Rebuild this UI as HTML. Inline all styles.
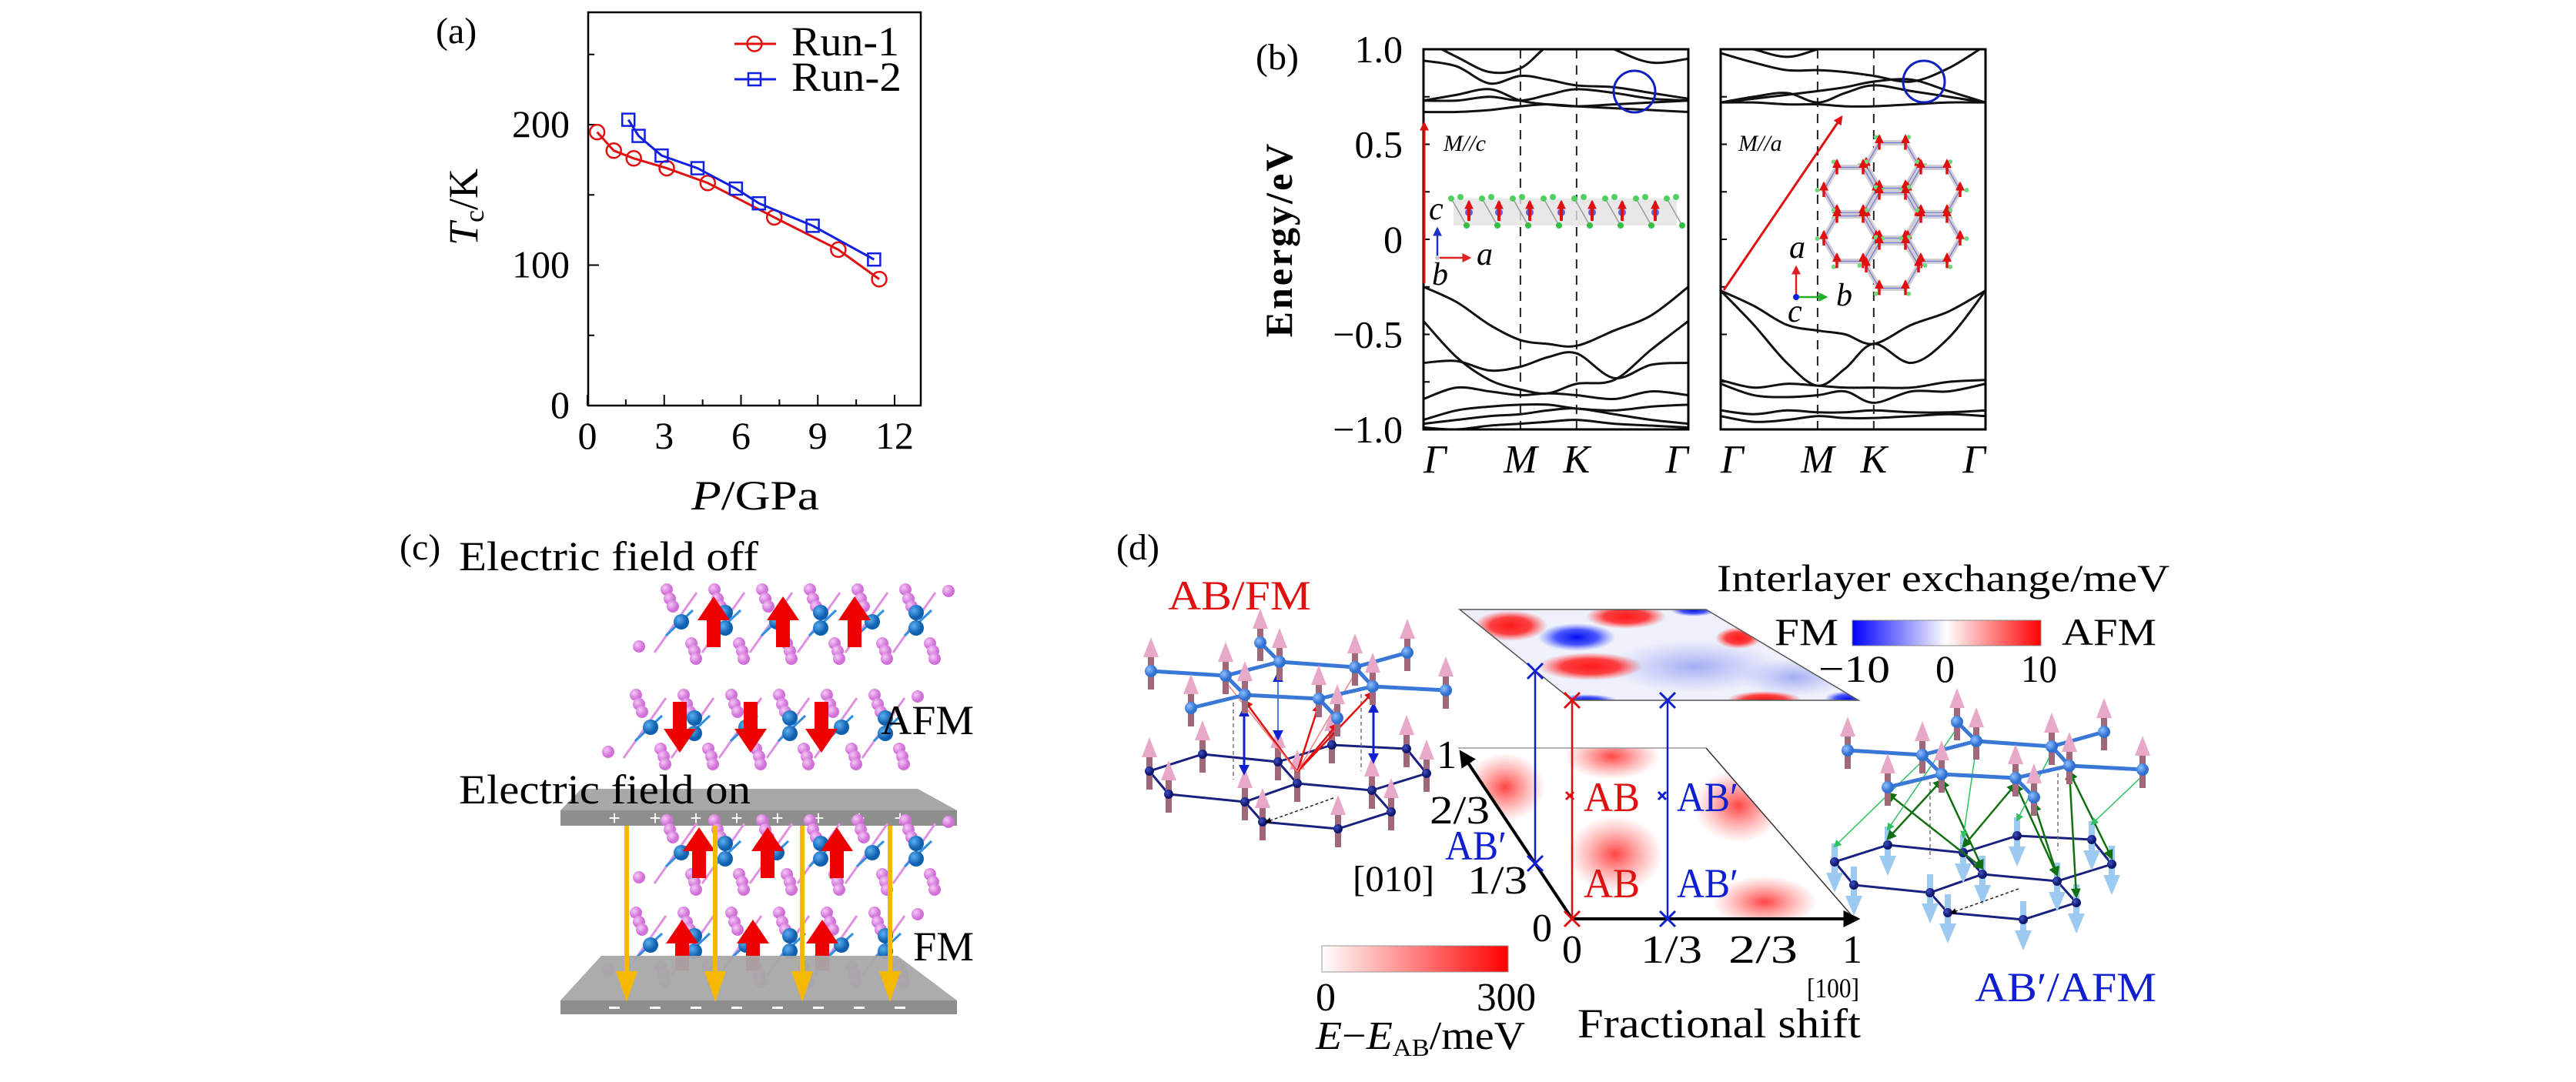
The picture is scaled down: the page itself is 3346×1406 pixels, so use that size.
<!DOCTYPE html>
<html><head><meta charset="utf-8"><title>Figure</title>
<style>
html,body{margin:0;padding:0;background:#fff;}
svg{display:block;font-family:"Liberation Serif",serif;}
</style></head>
<body>
<svg id="fig" xmlns="http://www.w3.org/2000/svg" width="3346" height="1406" viewBox="0 0 3346 1406">
<defs>
  <linearGradient id="gExch" x1="0" x2="1" y1="0" y2="0">
    <stop offset="0" stop-color="#0000ff"/><stop offset="0.5" stop-color="#ffffff"/><stop offset="1" stop-color="#ff0000"/>
  </linearGradient>
  <linearGradient id="gEn" x1="0" x2="1" y1="0" y2="0">
    <stop offset="0" stop-color="#ffffff"/><stop offset="1" stop-color="#ff0000"/>
  </linearGradient>
  <radialGradient id="rRed"><stop offset="0" stop-color="#ff1a1a" stop-opacity="1"/><stop offset="0.55" stop-color="#ff2020" stop-opacity="0.85"/><stop offset="1" stop-color="#ff4040" stop-opacity="0"/></radialGradient>
  <radialGradient id="rRedSoft"><stop offset="0" stop-color="#ff3030" stop-opacity="0.9"/><stop offset="1" stop-color="#ff6060" stop-opacity="0"/></radialGradient>
  <radialGradient id="rBlue"><stop offset="0" stop-color="#0010ee" stop-opacity="1"/><stop offset="0.55" stop-color="#2030ff" stop-opacity="0.8"/><stop offset="1" stop-color="#5060ff" stop-opacity="0"/></radialGradient>
  <radialGradient id="rBlueSoft"><stop offset="0" stop-color="#8a96f0" stop-opacity="0.75"/><stop offset="1" stop-color="#a0a8f4" stop-opacity="0"/></radialGradient>
  <radialGradient id="atomPink" cx="0.35" cy="0.35"><stop offset="0" stop-color="#f6c8f6"/><stop offset="1" stop-color="#d070d8"/></radialGradient>
  <radialGradient id="atomBlue" cx="0.35" cy="0.35"><stop offset="0" stop-color="#5ab0f0"/><stop offset="1" stop-color="#1060b0"/></radialGradient>
  <radialGradient id="nodeLight" cx="0.35" cy="0.35"><stop offset="0" stop-color="#8ec0ff"/><stop offset="1" stop-color="#3070d0"/></radialGradient>
  <radialGradient id="nodeDark" cx="0.35" cy="0.35"><stop offset="0" stop-color="#4050c0"/><stop offset="1" stop-color="#101870"/></radialGradient>
  <clipPath id="clipTop"><polygon points="1896,792 2216,792 2414,910 2042,910"/></clipPath>
  <clipPath id="clipBot"><polygon points="1894,972 2216,972 2409,1194 2042,1194"/></clipPath>
  <clipPath id="clipBL"><rect x="1849" y="64" width="344" height="494"/></clipPath>
  <clipPath id="clipBR"><rect x="2235" y="64" width="344" height="494"/></clipPath>
  <marker id="mBlk" markerWidth="8" markerHeight="8" refX="6" refY="4" orient="auto" markerUnits="userSpaceOnUse"><path d="M0,0 L8,4 L0,8 z" fill="#000"/></marker>
  <marker id="mBlkBig" viewBox="0 0 10 10" markerWidth="22" markerHeight="22" refX="8" refY="5" orient="auto" markerUnits="userSpaceOnUse"><path d="M0,0 L10,5 L0,10 z" fill="#000"/></marker>
  <marker id="mRed" viewBox="0 0 10 10" markerWidth="12" markerHeight="12" refX="8" refY="5" orient="auto-start-reverse" markerUnits="userSpaceOnUse"><path d="M0,0 L10,5 L0,10 z" fill="#e01010"/></marker>
  <marker id="mBlue" viewBox="0 0 10 10" markerWidth="14" markerHeight="14" refX="8" refY="5" orient="auto-start-reverse" markerUnits="userSpaceOnUse"><path d="M0,0 L10,5 L0,10 z" fill="#1020d0"/></marker>
  <marker id="mGreen" viewBox="0 0 10 10" markerWidth="13" markerHeight="13" refX="8" refY="5" orient="auto-start-reverse" markerUnits="userSpaceOnUse"><path d="M0,0 L10,5 L0,10 z" fill="#107010"/></marker>
  <marker id="mGreenL" viewBox="0 0 10 10" markerWidth="10" markerHeight="10" refX="8" refY="5" orient="auto" markerUnits="userSpaceOnUse"><path d="M0,0 L10,5 L0,10 z" fill="#30c060"/></marker>
  <marker id="mAx" viewBox="0 0 10 10" markerWidth="12" markerHeight="12" refX="8" refY="5" orient="auto" markerUnits="userSpaceOnUse"><path d="M0,0 L10,5 L0,10 z" fill="context-stroke"/></marker>
</defs>

<!-- ================= PANEL A ================= -->
<g id="panelA">
  <text x="566" y="56" font-size="48">(a)</text>
  <rect x="764" y="16" width="432" height="511" fill="none" stroke="#000" stroke-width="2.5"/>
  <g id="aTicks"></g>
  <g id="aSeries"></g>
  <g>
    <line x1="954" y1="57" x2="1008" y2="57" stroke="#e01010" stroke-width="3"/>
    <circle cx="980" cy="57" r="9.5" fill="none" stroke="#e01010" stroke-width="2.5"/>
    <text x="1028" y="72" font-size="54" textLength="140" lengthAdjust="spacingAndGlyphs">Run-1</text>
    <line x1="954" y1="103" x2="1008" y2="103" stroke="#1020e0" stroke-width="3"/>
    <rect x="972" y="95" width="16" height="16" fill="none" stroke="#1020e0" stroke-width="2.5"/>
    <text x="1028" y="118" font-size="54" textLength="143" lengthAdjust="spacingAndGlyphs">Run-2</text>
  </g>
  <text x="898" y="662" font-size="54" textLength="166" lengthAdjust="spacingAndGlyphs"><tspan font-style="italic">P</tspan>/GPa</text>
  <text transform="translate(620,269) rotate(-90)" text-anchor="middle" font-size="54"><tspan font-style="italic">T</tspan><tspan font-size="36" dy="8">c</tspan><tspan dy="-8">/K</tspan></text>
</g>

<!-- ================= PANEL B ================= -->
<g id="panelB">
  <text x="1631" y="90" font-size="48">(b)</text>
  <text transform="translate(1678,311) rotate(-90)" text-anchor="middle" font-size="50" font-weight="bold" letter-spacing="3">Energy/eV</text>
  <g id="bAxes"></g>
  <g id="bBandsL" clip-path="url(#clipBL)"></g>
  <g id="bBandsR" clip-path="url(#clipBR)"></g>
  <rect x="1849" y="64" width="344" height="494" fill="none" stroke="#000" stroke-width="3"/>
  <rect x="2235" y="64" width="344" height="494" fill="none" stroke="#000" stroke-width="3"/>
  <circle cx="2123" cy="119" r="27" fill="none" stroke="#1020c0" stroke-width="3"/>
  <circle cx="2499" cy="106" r="27" fill="none" stroke="#1020c0" stroke-width="3"/>
  <line x1="1850" y1="368" x2="1850" y2="160" stroke="#e01010" stroke-width="3" marker-end="url(#mRed)"/>
  <line x1="2239" y1="377" x2="2392" y2="152" stroke="#e01010" stroke-width="3" marker-end="url(#mRed)"/>
  <text x="1875" y="196" font-size="30" font-style="italic">M//c</text>
  <text x="2258" y="196" font-size="30" font-style="italic">M//a</text>
  <g>
    <rect x="1888" y="258" width="290" height="35" fill="#e2e2e2" opacity="0.8"/>
    <g id="chainInset"></g>
    <line x1="1867" y1="335" x2="1867" y2="297" stroke="#2030c0" stroke-width="2.5" marker-end="url(#mAx)"/>
    <line x1="1867" y1="335" x2="1909" y2="335" stroke="#e02020" stroke-width="2.5" marker-end="url(#mAx)"/>
    <circle cx="1867" cy="335" r="3" fill="#ccc"/>
    <text x="1856" y="285" font-size="42" font-style="italic">c</text>
    <text x="1918" y="344" font-size="42" font-style="italic">a</text>
    <text x="1860" y="370" font-size="42" font-style="italic">b</text>
  </g>
  <g>
    <g id="honeyInset"></g>
    <line x1="2333" y1="386" x2="2333" y2="347" stroke="#e02020" stroke-width="2.5" marker-end="url(#mAx)"/>
    <line x1="2333" y1="386" x2="2372" y2="386" stroke="#20b020" stroke-width="2.5" marker-end="url(#mAx)"/>
    <circle cx="2333" cy="386" r="4" fill="#1020e0"/>
    <text x="2324" y="335" font-size="42" font-style="italic">a</text>
    <text x="2385" y="397" font-size="42" font-style="italic">b</text>
    <text x="2322" y="418" font-size="42" font-style="italic">c</text>
  </g>
</g>

<!-- ================= PANEL C ================= -->
<g id="panelC">
  <text x="519" y="727" font-size="48">(c)</text>
  <text x="596" y="741" font-size="54" textLength="389" lengthAdjust="spacingAndGlyphs">Electric field off</text>
  <g id="layersOff"></g>
  <text x="1144" y="954" font-size="54" textLength="121" lengthAdjust="spacingAndGlyphs">AFM</text>
  <polygon points="755,1025 1192,1025 1243,1053 728,1053" fill="#a8a8a8"/>
  <rect x="728" y="1053" width="515" height="20" fill="#8e8e8e"/>
  <text x="596" y="1044" font-size="54" textLength="379" lengthAdjust="spacingAndGlyphs">Electric field on</text>
  <g id="plusSigns"></g>
  <g id="layersOn"></g>
  <polygon points="781,1242 1166,1242 1243,1300 728,1300" fill="#a8a8a8" opacity="0.95"/>
  <rect x="728" y="1300" width="515" height="18" fill="#8e8e8e"/>
  <g id="minusSigns"></g>
  <g id="fieldArrows"></g>
  <text x="1186" y="1248" font-size="54" textLength="79" lengthAdjust="spacingAndGlyphs">FM</text>
</g>

<!-- ================= PANEL D ================= -->
<g id="panelD">
  <text x="1450" y="727" font-size="48">(d)</text>
  <text x="1517" y="792" font-size="54" fill="#e01010" textLength="186" lengthAdjust="spacingAndGlyphs">AB/FM</text>
  <text x="2565" y="1301" font-size="54" fill="#1020d0" textLength="236" lengthAdjust="spacingAndGlyphs">AB′/AFM</text>
  <text x="2230" y="768" font-size="50" textLength="588" lengthAdjust="spacingAndGlyphs">Interlayer exchange/meV</text>
  <rect x="2406" y="806" width="245" height="33" fill="url(#gExch)" stroke="#888" stroke-width="1"/>
  <text x="2305" y="838" font-size="50" textLength="83" lengthAdjust="spacingAndGlyphs">FM</text>
  <text x="2678" y="838" font-size="50" textLength="123" lengthAdjust="spacingAndGlyphs">AFM</text>
  <text x="2362" y="886" font-size="50" textLength="93" lengthAdjust="spacingAndGlyphs">−10</text>
  <text x="2514" y="886" font-size="50">0</text>
  <text x="2625" y="886" font-size="50" textLength="47" lengthAdjust="spacingAndGlyphs">10</text>

  <g clip-path="url(#clipTop)">
    <rect x="1890" y="785" width="530" height="130" fill="#eef0fb"/>
    <ellipse cx="2201" cy="866" rx="110" ry="34" fill="url(#rBlueSoft)"/>
    <ellipse cx="2330" cy="880" rx="70" ry="25" fill="url(#rBlueSoft)"/>
    <ellipse cx="1962" cy="813" rx="48" ry="20" fill="url(#rRed)"/>
    <ellipse cx="2112" cy="801" rx="52" ry="16" fill="url(#rRed)"/>
    <ellipse cx="2048" cy="828" rx="50" ry="18" fill="url(#rBlue)"/>
    <ellipse cx="2066" cy="866" rx="68" ry="18" fill="url(#rRed)"/>
    <ellipse cx="2258" cy="829" rx="30" ry="14" fill="url(#rRed)"/>
    <ellipse cx="2292" cy="909" rx="48" ry="11" fill="url(#rRed)"/>
    <ellipse cx="2200" cy="793" rx="30" ry="8" fill="url(#rBlue)"/>
    <ellipse cx="2400" cy="908" rx="30" ry="10" fill="url(#rBlue)"/>
    <ellipse cx="2060" cy="910" rx="40" ry="8" fill="url(#rBlue)"/>
  </g>
  <polygon points="1896,792 2216,792 2414,910 2042,910" fill="none" stroke="#555" stroke-width="1.5"/>

  <g clip-path="url(#clipBot)">
    <rect x="1890" y="965" width="525" height="235" fill="#fff"/>
    <ellipse cx="2094" cy="983" rx="62" ry="30" fill="url(#rRedSoft)"/>
    <ellipse cx="1955" cy="1023" rx="52" ry="45" fill="url(#rRedSoft)"/>
    <ellipse cx="2098" cy="1110" rx="62" ry="50" fill="url(#rRedSoft)"/>
    <ellipse cx="2258" cy="1047" rx="58" ry="48" fill="url(#rRedSoft)"/>
    <ellipse cx="2292" cy="1172" rx="68" ry="34" fill="url(#rRedSoft)"/>
  </g>
  <line x1="1894" y1="972" x2="2216" y2="972" stroke="#999" stroke-width="1.5"/>
  <line x1="2216" y1="972" x2="2409" y2="1194" stroke="#333" stroke-width="1.5"/>
  <line x1="2042" y1="1194" x2="1898" y2="978" stroke="#000" stroke-width="4" marker-end="url(#mBlkBig)"/>
  <line x1="2042" y1="1194" x2="2412" y2="1194" stroke="#000" stroke-width="4" marker-end="url(#mBlkBig)"/>

  <line x1="1994" y1="872" x2="1994" y2="1122" stroke="#1020d0" stroke-width="2.5"/>
  <line x1="2042" y1="910" x2="2042" y2="1194" stroke="#e01010" stroke-width="2.5"/>
  <line x1="2166" y1="910" x2="2166" y2="1194" stroke="#1020d0" stroke-width="2.5"/>
  <g id="crosses"></g>

  <text x="2057" y="1054" font-size="54" fill="#e01010" textLength="73" lengthAdjust="spacingAndGlyphs">AB</text>
  <text x="2178" y="1054" font-size="54" fill="#1020d0" textLength="80" lengthAdjust="spacingAndGlyphs">AB′</text>
  <text x="2057" y="1166" font-size="54" fill="#e01010" textLength="73" lengthAdjust="spacingAndGlyphs">AB</text>
  <text x="2178" y="1166" font-size="54" fill="#1020d0" textLength="80" lengthAdjust="spacingAndGlyphs">AB′</text>
  <text x="1877" y="1117" font-size="54" fill="#1020d0" textLength="80" lengthAdjust="spacingAndGlyphs">AB′</text>

  <text x="1866" y="998" font-size="52">1</text>
  <text x="1857" y="1070" font-size="52" textLength="78" lengthAdjust="spacingAndGlyphs">2/3</text>
  <text x="1906" y="1161" font-size="52" textLength="78" lengthAdjust="spacingAndGlyphs">1/3</text>
  <text x="1990" y="1223" font-size="52">0</text>
  <text x="1757" y="1158" font-size="48" textLength="106" lengthAdjust="spacingAndGlyphs">[010]</text>
  <text x="2029" y="1251" font-size="52">0</text>
  <text x="2131" y="1251" font-size="52" textLength="80" lengthAdjust="spacingAndGlyphs">1/3</text>
  <text x="2245" y="1251" font-size="52" textLength="90" lengthAdjust="spacingAndGlyphs">2/3</text>
  <text x="2393" y="1251" font-size="52">1</text>
  <text x="2347" y="1296" font-size="36" textLength="68" lengthAdjust="spacingAndGlyphs">[100]</text>
  <text x="2049" y="1348" font-size="54" textLength="368" lengthAdjust="spacingAndGlyphs">Fractional shift</text>

  <rect x="1717" y="1229" width="242" height="34" fill="url(#gEn)" stroke="#999" stroke-width="1"/>
  <text x="1709" y="1313" font-size="52">0</text>
  <text x="1918" y="1313" font-size="52" textLength="77" lengthAdjust="spacingAndGlyphs">300</text>
  <text x="1709" y="1363" font-size="52" textLength="272" lengthAdjust="spacingAndGlyphs"><tspan font-style="italic">E</tspan>−<tspan font-style="italic">E</tspan><tspan font-size="32" dy="9">AB</tspan><tspan dy="-9">/meV</tspan></text>

  <g id="latticeLeft"></g>
  <g id="latticeRight"></g>
</g>

<script>
// ---------------- Panel A data ----------------
const run1P = [0.38, 1.03, 1.81, 3.1, 4.7, 7.3, 9.8, 11.4];
const run1Tc = [194.7, 181.5, 176, 169, 158.5, 134, 111, 90];
const run2P = [1.6, 2.0, 2.9, 4.3, 5.8, 6.7, 8.8, 11.2];
const run2Tc = [203.5, 192, 178, 169, 154.5, 144, 128, 104];
const aXTicks = [0, 3, 6, 9, 12];
const aXMinor = [1.5, 4.5, 7.5, 10.5];
const aYTicks = [0, 100, 200];
const aYMinor = [50, 150, 250];

// ---------------- Panel B data ----------------
const kFrac = [0, 0.125, 0.25, 0.366, 0.47, 0.578, 0.72, 0.86, 1];
const bandsLeft = [
  [0.67, 0.67, 0.68, 0.70, 0.71, 0.70, 0.69, 0.68, 0.67],
  [0.73, 0.73, 0.75, 0.73, 0.76, 0.79, 0.77, 0.74, 0.73],
  [0.73, 0.76, 0.79, 0.73, 0.71, 0.70, 0.71, 0.72, 0.73],
  [0.94, 0.91, 0.82, 0.86, 0.84, 0.81, 0.80, 0.77, 0.74],
  [1.05, 0.96, 0.88, 0.90, 1.02, 1.1, 1.0, 0.93, 0.95],
  [-0.25, -0.33, -0.45, -0.53, -0.55, -0.56, -0.48, -0.40, -0.25],
  [-0.43, -0.62, -0.74, -0.79, -0.81, -0.76, -0.74, -0.58, -0.43],
  [-0.65, -0.64, -0.69, -0.67, -0.62, -0.60, -0.73, -0.66, -0.65],
  [-0.84, -0.78, -0.80, -0.82, -0.81, -0.82, -0.84, -0.80, -0.82],
  [-0.95, -0.90, -0.88, -0.87, -0.87, -0.89, -0.90, -0.88, -0.87],
  [-0.97, -0.95, -0.93, -0.92, -0.90, -0.89, -0.92, -0.95, -0.97],
  [-0.99, -1.0, -0.98, -0.97, -0.96, -0.95, -0.97, -0.98, -0.99]
];
const bandsRight = [
  [0.72, 0.72, 0.71, 0.71, 0.70, 0.70, 0.71, 0.72, 0.72],
  [0.72, 0.75, 0.77, 0.72, 0.77, 0.81, 0.78, 0.75, 0.72],
  [0.72, 0.74, 0.76, 0.78, 0.80, 0.83, 0.84, 0.78, 0.72],
  [0.98, 0.93, 0.89, 0.89, 0.88, 0.86, 0.83, 0.90, 1.02],
  [1.05, 1.0, 0.96, 1.0, 1.05, 1.1, 1.1, 1.05, 1.05],
  [-0.27, -0.35, -0.45, -0.48, -0.50, -0.55, -0.45, -0.38, -0.27],
  [-0.27, -0.45, -0.65, -0.77, -0.68, -0.55, -0.65, -0.52, -0.27],
  [-0.74, -0.78, -0.76, -0.77, -0.78, -0.78, -0.78, -0.75, -0.74],
  [-0.76, -0.82, -0.83, -0.82, -0.80, -0.86, -0.80, -0.80, -0.76],
  [-0.90, -0.92, -0.90, -0.91, -0.91, -0.90, -0.91, -0.91, -0.90],
  [-0.93, -0.96, -0.95, -0.93, -0.94, -0.94, -0.93, -0.92, -0.93]
];
const bYTickLabels = ["1.0", "0.5", "0", "−0.5", "−1.0"];
const bYTickValues = [1.0, 0.5, 0, -0.5, -1.0];
const kLabels = ["Γ", "M", "K", "Γ"];
const kLabelFrac = [0, 0.366, 0.578, 1];

const SVGNS = "http://www.w3.org/2000/svg";
function mk(tag, attrs, parent) {
  const e = document.createElementNS(SVGNS, tag);
  for (const k in attrs) e.setAttribute(k, attrs[k]);
  parent.appendChild(e);
  return e;
}

(function(){
  const xs = p => 763 + p * (1162 - 763) / 12;
  const ys = t => 527 - t * 1.825;
  const axG = document.getElementById('aTicks');
  aXTicks.forEach(v => {
    const l = mk('line', {x1: xs(v), x2: xs(v), y1: 527, y2: 513, stroke: '#000', 'stroke-width': 2}, axG);
    
    
    const t = mk('text', {x: xs(v), y: 583, 'text-anchor': 'middle', 'font-size': 50}, axG);
    t.textContent = v;
    
    
  });
  aXMinor.forEach(v => {
    const l = mk('line', {x1: xs(v), x2: xs(v), y1: 527, y2: 519, stroke: '#000', 'stroke-width': 2}, axG);
    
    
  });
  aYTicks.forEach(v => {
    const l = mk('line', {x1: 764, x2: 778, y1: ys(v), y2: ys(v), stroke: '#000', 'stroke-width': 2}, axG);
    
    
    const t = mk('text', {x: 740, y: ys(v) + 16, 'text-anchor': 'end', 'font-size': 50}, axG);
    t.textContent = v;
    
    
  });
  aYMinor.forEach(v => {
    const l = mk('line', {x1: 764, x2: 772, y1: ys(v), y2: ys(v), stroke: '#000', 'stroke-width': 2}, axG);
    
    
  });
  const sG = document.getElementById('aSeries');
  function series(P, T, color, shape, name) {
    const pts = P.map((p, i) => xs(p) + ',' + ys(T[i])).join(' ');
    const pl = mk('polyline', {points: pts, fill: 'none', stroke: color, 'stroke-width': 3}, sG);
    
    
    P.forEach((p, i) => {
      let m;
      if (shape === 'circle') m = mk('circle', {cx: xs(p), cy: ys(T[i]), r: 9.5, fill: 'none', stroke: color, 'stroke-width': 2.5}, sG);
      else m = mk('rect', {x: xs(p) - 8, y: ys(T[i]) - 8, width: 16, height: 16, fill: 'none', stroke: color, 'stroke-width': 2.5}, sG);
      
      
    });
  }
  series(run1P, run1Tc, '#e01010', 'circle', 'run1');
  series(run2P, run2Tc, '#1020e0', 'square', 'run2');
})();

(function(){
  const ey = e => 311 - e * 247;
  const axG = document.getElementById('bAxes');
  function smooth(pts) {
    let d = 'M' + pts[0][0] + ',' + pts[0][1];
    for (let i = 0; i < pts.length - 1; i++) {
      const p0 = pts[Math.max(0, i - 1)], p1 = pts[i], p2 = pts[i + 1], p3 = pts[Math.min(pts.length - 1, i + 2)];
      const c1x = p1[0] + (p2[0] - p0[0]) / 6, c1y = p1[1] + (p2[1] - p0[1]) / 6;
      const c2x = p2[0] - (p3[0] - p1[0]) / 6, c2y = p2[1] - (p3[1] - p1[1]) / 6;
      d += ' C' + c1x + ',' + c1y + ' ' + c2x + ',' + c2y + ' ' + p2[0] + ',' + p2[1];
    }
    return d;
  }
  function panel(x0, bands, gid, withLabels) {
    const kx = f => x0 + f * 344;
    const g = document.getElementById(gid);
    bands.forEach(b => {
      const p = mk('path', {d: smooth(b.map((e, i) => [kx(kFrac[i]), ey(e)])), fill: 'none', stroke: '#111', 'stroke-width': 3}, g);
      
      
    });
    [1, 2].forEach(i => {
      const l = mk('line', {x1: kx(kLabelFrac[i]), x2: kx(kLabelFrac[i]), y1: 64, y2: 558, stroke: '#222', 'stroke-width': 2, 'stroke-dasharray': '12,9'}, axG);
      
      
    });
    kLabels.forEach((lab, i) => {
      const t = mk('text', {x: kx(kLabelFrac[i]), y: 614, 'text-anchor': i === 3 ? 'end' : (i === 0 ? 'start' : 'middle'), 'font-size': 52, 'font-style': 'italic'}, axG);
      t.textContent = lab;
      
      
    });
    [0.75, 0.25, -0.25, -0.75, 0.5, 0, -0.5].forEach(v => {
      const l = mk('line', {x1: x0, x2: x0 + 8, y1: ey(v), y2: ey(v), stroke: '#000', 'stroke-width': 2}, axG);
      
      
    });
    if (withLabels) {
      bYTickValues.forEach((v, i) => {
        const t = mk('text', {x: 1822, y: ey(v) + 17, 'text-anchor': 'end', 'font-size': 50}, axG);
        t.textContent = bYTickLabels[i];
        
        
      });
    }
  }
  panel(1849, bandsLeft, 'bBandsL', true);
  panel(2235, bandsRight, 'bBandsR', false);
})();

(function(){
  const g = document.getElementById('chainInset');
  const xsA = [1908, 1947, 1987, 2028, 2068, 2107, 2150];
  for (let i = 0; i < 8; i++) {
    const x = 1885 + i * 40;
    mk('line', {x1: x, y1: 258, x2: x + 20, y2: 293, stroke: '#999', 'stroke-width': 1.5}, g);
    mk('circle', {cx: x, cy: 258, r: 4, fill: '#50d060'}, g);
    mk('circle', {cx: x + 12, cy: 256, r: 4, fill: '#50d060'}, g);
    mk('circle', {cx: x + 20, cy: 293, r: 4, fill: '#30c040'}, g);
  }
  xsA.forEach(x => {
    mk('circle', {cx: x, cy: 276, r: 5, fill: '#6060d0'}, g);
    const a = mk('line', {x1: x, y1: 287, x2: x, y2: 262, stroke: '#e01010', 'stroke-width': 4, 'marker-end': 'url(#mRed)'}, g);
    
    
  });
  const h = document.getElementById('honeyInset');
  const centers = [[2458,215],[2403,247],[2512,247],[2458,280],[2403,310],[2512,310],[2458,345]];
  const R = 34;
  centers.forEach(c => {
    const pts = [];
    for (let k = 0; k < 6; k++) { const a = Math.PI / 3 * k; pts.push([c[0] + R * Math.cos(a), c[1] + R * Math.sin(a)]); }
    mk('polygon', {points: pts.map(p => p.join(',')).join(' '), fill: 'none', stroke: '#d0d0d0', 'stroke-width': 7}, h);
    mk('polygon', {points: pts.map(p => p.join(',')).join(' '), fill: 'none', stroke: '#8080d8', 'stroke-width': 1.5}, h);
    pts.forEach(p => {
      mk('circle', {cx: p[0] + (p[0] - c[0]) * 0.25, cy: p[1] + (p[1] - c[1]) * 0.25, r: 3, fill: '#70d880'}, h);
      const a = mk('line', {x1: p[0], y1: p[1] + 9, x2: p[0], y2: p[1] - 9, stroke: '#e01010', 'stroke-width': 3.5, 'marker-end': 'url(#mRed)'}, h);
      
      
    });
  });
})();

(function(){
  function layer(gid, x0, yc, arrowsX, dir) {
    const g = document.getElementById(gid);
    const grp = mk('g', {}, g);
    
    
    for (let i = 0; i < 6; i++) {
      const bx = x0 + i * 62;
      mk('line', {x1: bx - 30, y1: yc + 40, x2: bx + 25, y2: yc - 38, stroke: '#e090e0', 'stroke-width': 3}, grp);
      mk('line', {x1: bx - 15, y1: yc + 18, x2: bx + 20, y2: yc - 15, stroke: '#3090e0', 'stroke-width': 3}, grp);
    }
    for (let i = 0; i < 6; i++) {
      const bx = x0 + i * 62;
      [[-14,-42],[-10,-30],[-6,-20],[18,28],[22,38],[24,48]].forEach(o => mk('circle', {cx: bx + o[0], cy: yc + o[1], r: 8, fill: 'url(#atomPink)'}, grp));
      if (i % 2 === 0) mk('circle', {cx: bx + 5, cy: yc, r: 10, fill: 'url(#atomBlue)'}, grp);
      else { mk('circle', {cx: bx, cy: yc - 12, r: 10, fill: 'url(#atomBlue)'}, grp); mk('circle', {cx: bx, cy: yc + 8, r: 10, fill: 'url(#atomBlue)'}, grp); }
    }
    mk('circle', {cx: x0 - 50, cy: yc + 32, r: 8, fill: 'url(#atomPink)'}, grp);
    mk('circle', {cx: x0 + 6 * 62 - 20, cy: yc - 40, r: 8, fill: 'url(#atomPink)'}, grp);
    arrowsX.forEach(x => {
      let pts;
      if (dir > 0) pts = [[x-9, yc+33],[x+9, yc+33],[x+9, yc-2],[x+21, yc-2],[x, yc-33],[x-21, yc-2],[x-9, yc-2]];
      else pts = [[x-9, yc-33],[x+9, yc-33],[x+9, yc+2],[x+21, yc+2],[x, yc+33],[x-21, yc+2],[x-9, yc+2]];
      const a = mk('polygon', {points: pts.map(p => p.join(',')).join(' '), fill: '#ee0000'}, grp);
      
      
    });
  }
  layer('layersOff', 880, 808, [927, 1017, 1110], 1);
  layer('layersOff', 840, 945, [883, 975, 1067], -1);
  layer('layersOn', 880, 1108, [908, 997, 1087], 1);
  layer('layersOn', 840, 1228, [886, 978, 1068], 1);
  const ps = document.getElementById('plusSigns');
  const ms = document.getElementById('minusSigns');
  for (let i = 0; i < 8; i++) {
    const x = 798 + i * 53;
    const t = mk('text', {x: x, y: 1072, 'text-anchor': 'middle', 'font-size': 26, fill: '#fff', 'font-family': 'Liberation Sans, sans-serif'}, ps);
    t.textContent = '+';
    
    
    const r = mk('rect', {x: x - 7, y: 1308, width: 14, height: 3, fill: '#fff'}, ms);
    
    
  }
  const fa = document.getElementById('fieldArrows');
  [814, 929, 1042, 1156].forEach(x => {
    mk('rect', {x: x - 3, y: 1073, width: 6, height: 195, fill: '#f5b800'}, fa);
    const a = mk('polygon', {points: (x-14)+',1262 '+(x+14)+',1262 '+x+',1302', fill: '#f5b800'}, fa);
    
    
  });
})();

(function(){
  const cg = document.getElementById('crosses');
  [[1994,872,'#1020d0',10],[2042,910,'#e01010',10],[2166,910,'#1020d0',10],[1994,1122,'#1020d0',10],[2042,1194,'#e01010',10],[2166,1194,'#1020d0',10],[2039,1034,'#e01010',5],[2159,1034,'#1020d0',5]].forEach(c => {
    const p = mk('path', {d: 'M'+(c[0]-c[3])+','+(c[1]-c[3])+' L'+(c[0]+c[3])+','+(c[1]+c[3])+' M'+(c[0]+c[3])+','+(c[1]-c[3])+' L'+(c[0]-c[3])+','+(c[1]+c[3]), stroke: c[2], 'stroke-width': 3}, cg);
    
    
  });

  const upper = [[1495,872],[1592,878],[1662,860],[1637,835],[1760,867],[1828,848],[1783,892],[1878,897],[1713,908],[1617,903],[1547,920],[1737,933]];
  const upperE = [[0,1],[1,2],[3,2],[2,4],[4,5],[4,6],[6,7],[1,9],[9,8],[8,6],[9,10],[8,11]];
  const lower = [[1493,1002],[1562,980],[1660,990],[1730,968],[1827,973],[1853,1005],[1782,1027],[1685,1018],[1617,1042],[1518,1032],[1640,1068],[1738,1077],[1807,1055]];
  const lowerE = [[0,1],[1,2],[2,3],[3,4],[4,5],[5,6],[6,7],[7,2],[7,8],[8,9],[9,0],[8,10],[10,11],[11,12],[12,6]];

  function upArrow(g, x, y) {
    mk('rect', {x: x - 4, y: y - 20, width: 8, height: 44, fill: '#a06878'}, g);
    const a = mk('polygon', {points: (x-10)+','+(y-18)+' '+(x+10)+','+(y-18)+' '+x+','+(y-44), fill: '#e8a8c8'}, g);
    
    
  }
  function downArrow(g, x, y) {
    mk('rect', {x: x - 4, y: y - 24, width: 8, height: 40, fill: '#9ccaf0'}, g);
    const a = mk('polygon', {points: (x-11)+','+(y+14)+' '+(x+11)+','+(y+14)+' '+x+','+(y+40), fill: '#9ccaf0'}, g);
    
    
  }
  function lattice(gid, du, dl, lowerDown, afm) {
    const g = document.getElementById(gid);
    const U = upper.map(p => [p[0] + du[0], p[1] + du[1]]);
    const L = lower.map(p => [p[0] + dl[0], p[1] + dl[1]]);
    lowerE.forEach(e => mk('line', {x1: L[e[0]][0], y1: L[e[0]][1], x2: L[e[1]][0], y2: L[e[1]][1], stroke: '#1a2080', 'stroke-width': 3}, g));
    L.forEach(p => { if (lowerDown) downArrow(g, p[0], p[1]); else upArrow(g, p[0], p[1]); mk('circle', {cx: p[0], cy: p[1], r: 6, fill: 'url(#nodeDark)'}, g); });
    [9, 6].forEach(i => mk('line', {x1: U[i][0] - 15, y1: U[i][1] + 10, x2: U[i][0] - 15, y2: U[i][1] + 110, stroke: '#777', 'stroke-width': 1.5, 'stroke-dasharray': '5,4'}, g));
    mk('line', {x1: L[6][0] - 50, y1: L[6][1] + 10, x2: L[10][0] + 5, y2: L[10][1], stroke: '#222', 'stroke-width': 1.5, 'stroke-dasharray': '4,3', 'marker-end': 'url(#mBlk)'}, g);
    if (!afm) {
      [[L[7], U[9]], [L[7], U[11]], [L[7], U[8]], [L[7], U[6]]].forEach(pr => mk('line', {x1: pr[0][0], y1: pr[0][1] - 15, x2: pr[1][0], y2: pr[1][1] + 8, stroke: '#e01010', 'stroke-width': 2.5, 'marker-end': 'url(#mRed)'}, g));
      [[L[7], U[1]], [L[7], U[4]]].forEach(pr => mk('line', {x1: pr[0][0], y1: pr[0][1] - 15, x2: pr[1][0], y2: pr[1][1] + 8, stroke: '#f08080', 'stroke-width': 1.5}, g));
      mk('line', {x1: 1616, y1: 920, x2: 1616, y2: 1005, stroke: '#1020d0', 'stroke-width': 3, 'marker-start': 'url(#mBlue)', 'marker-end': 'url(#mBlue)'}, g);
      mk('line', {x1: 1784, y1: 915, x2: 1784, y2: 990, stroke: '#1020d0', 'stroke-width': 3, 'marker-start': 'url(#mBlue)', 'marker-end': 'url(#mBlue)'}, g);
      mk('line', {x1: 1660, y1: 875, x2: 1660, y2: 960, stroke: '#4080e0', 'stroke-width': 2, 'marker-start': 'url(#mBlue)', 'marker-end': 'url(#mBlue)'}, g);
    } else {
      const dk = [[U[10], L[7]], [U[9], L[7]], [U[9], L[1]], [U[8], L[2]], [U[8], L[6]], [U[11], L[6]], [U[6], L[12]], [U[6], L[5]]];
      dk.forEach(pr => mk('line', {x1: pr[0][0], y1: pr[0][1] + 8, x2: pr[1][0], y2: pr[1][1] - 8, stroke: '#107010', 'stroke-width': 2.5, 'marker-start': 'url(#mGreen)', 'marker-end': 'url(#mGreen)'}, g));
      [[U[1], L[0]], [U[2], L[2]], [U[4], L[3]], [U[7], L[4]], [U[3], L[1]]].forEach(pr => mk('line', {x1: pr[0][0], y1: pr[0][1] + 8, x2: pr[1][0], y2: pr[1][1] - 20, stroke: '#30c060', 'stroke-width': 1.5, 'marker-end': 'url(#mGreenL)'}, g));
    }
    upperE.forEach(e => mk('line', {x1: U[e[0]][0], y1: U[e[0]][1], x2: U[e[1]][0], y2: U[e[1]][1], stroke: '#3a78d8', 'stroke-width': 5}, g));
    U.forEach(p => { upArrow(g, p[0], p[1]); mk('circle', {cx: p[0], cy: p[1], r: 8, fill: 'url(#nodeLight)'}, g); });
  }
  lattice('latticeLeft', [0, 0], [0, 0], false, false);
  lattice('latticeRight', [905, 103], [890, 118], true, true);
})();
</script>
</svg>
</body></html>
